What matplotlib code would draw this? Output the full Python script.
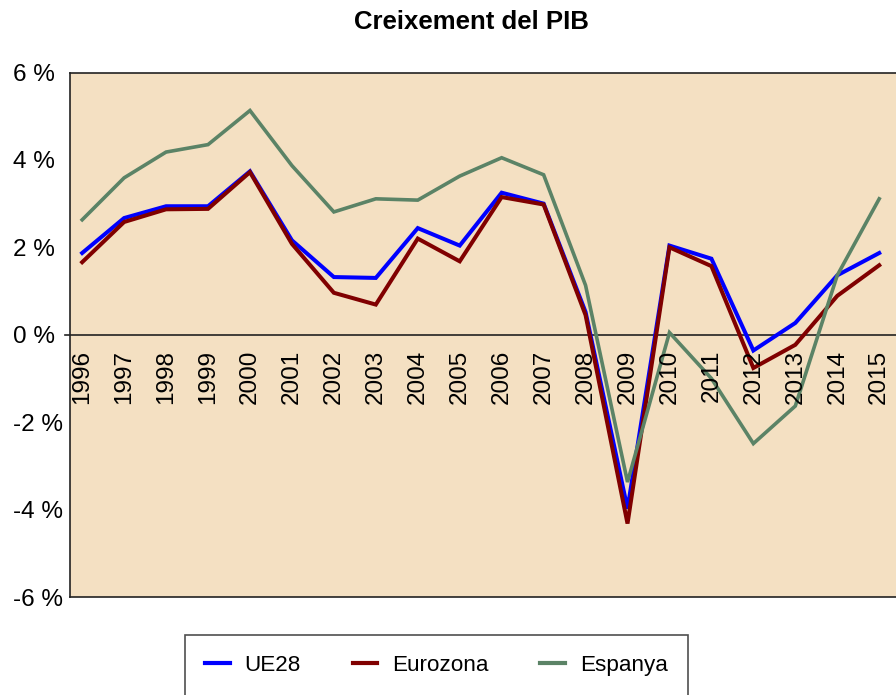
import matplotlib
matplotlib.use('Agg')
import matplotlib.pyplot as plt

plt.rcParams['font.family'] = ['Liberation Sans', 'DejaVu Sans']

years = [str(y) for y in range(1996, 2016)]
ue28 = [1.87, 2.67, 2.94, 2.94, 3.74, 2.16, 1.32, 1.30, 2.44, 2.04,
        3.25, 3.00, 0.52, -3.98, 2.04, 1.74, -0.36, 0.27, 1.36, 1.87]
eurozona = [1.66, 2.58, 2.87, 2.88, 3.72, 2.08, 0.96, 0.69, 2.20, 1.68,
            3.15, 2.98, 0.45, -4.32, 2.00, 1.57, -0.76, -0.23, 0.89, 1.59]
espanya = [2.63, 3.59, 4.18, 4.35, 5.13, 3.87, 2.81, 3.11, 3.08, 3.63,
           4.05, 3.66, 1.13, -3.37, 0.05, -1.00, -2.49, -1.63, 1.36, 3.11]
yticks = [6, 4, 2, 0, -2, -4, -6]
ytick_labels = ['6 %', '4 %', '2 %', '0 %', '-2 %', '-4 %', '-6 %']

fig = plt.figure(figsize=(8.96, 6.95), dpi=100)
ax = fig.add_axes([70 / 896, 1 - 597 / 695, 1 - 70 / 896, (597 - 72.5) / 695])
ax.set_facecolor('#F4E0C2')

x = list(range(len(years)))
ax.plot(x, ue28, color='#0000FF', lw=2.9, label='UE28', solid_joinstyle='miter')
ax.plot(x, eurozona, color='#800000', lw=2.9, label='Eurozona', solid_joinstyle='miter')
ax.plot(x, espanya, color='#5B8366', lw=2.6, label='Espanya', solid_joinstyle='miter')

ax.set_xlim(-0.29, 19.4)
ax.set_ylim(-6, 6)

# zero line, sticking out a bit on the left
ax.axhline(0, xmin=-0.006, color='#222222', lw=1.2, clip_on=False, zorder=1)

for i, yr in enumerate(years):
    ax.annotate(yr, xy=(i, 0), xytext=(0, -11), textcoords='offset points',
                rotation=90, ha='center', va='top', fontsize=17.5)

ax.set_xticks([])
ax.set_yticks(yticks)
ax.set_yticklabels(ytick_labels, fontsize=17.5)
ax.tick_params(axis='y', length=0, pad=41)
for lbl in ax.get_yticklabels():
    lbl.set_ha('left')

for side in ['left', 'top', 'bottom']:
    ax.spines[side].set_color('#222222')
    ax.spines[side].set_linewidth(1.2)
ax.spines['right'].set_visible(False)

fig.text(471 / 896, 1 - 22 / 695, 'Creixement del PIB', ha='center', va='center',
         fontsize=18.5, fontweight='bold')

leg = fig.legend(loc='upper left', bbox_to_anchor=(185 / 896, 1 - 635 / 695),
                 ncol=3, fontsize=16.2, frameon=True, fancybox=False,
                 borderaxespad=0, borderpad=0.9, handlelength=1.1,
                 handletextpad=0.65, columnspacing=2.3)
leg.get_frame().set_edgecolor('#222222')
leg.get_frame().set_linewidth(1.2)
for line in leg.get_lines():
    line.set_linewidth(3)

fig.savefig('out.png', dpi=100)
